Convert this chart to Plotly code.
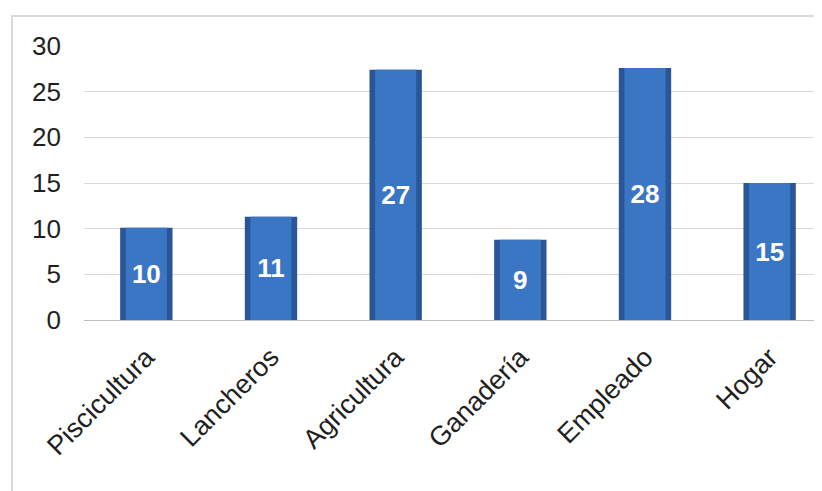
import plotly.graph_objects as go

categories = ["Piscicultura", "Lancheros", "Agricultura", "Ganadería", "Empleado", "Hogar"]
values = [10.1, 11.3, 27.4, 8.8, 27.6, 15.0]
y_ticks = [0, 5, 10, 15, 20, 25, 30]

# page has an 8px body margin; figure coords = page coords - 8
W, H = 814, 483
ml, mt, mb, mr = 76, 38, 171, 0
pw = W - ml - mr
ph = H - mt - mb

def px_to_paper_x(px):
    return (px - ml) / pw

def px_to_paper_y(py):
    return (H - mb - py) / ph

fig = go.Figure()
fig.add_trace(go.Bar(
    x=categories, y=values, width=0.42,
    marker=dict(color="#2a5697", line=dict(width=0)),
    hoverinfo="skip", showlegend=False,
))
fig.add_trace(go.Bar(
    x=categories, y=values, width=0.33,
    marker=dict(color="#3b76c4", line=dict(width=0)),
    texttemplate="<b>%{y:.0f}</b>", textposition="inside",
    insidetextanchor="middle", textangle=0, constraintext="none",
    textfont=dict(family="Liberation Sans, Arial, sans-serif", size=26, color="white"),
    showlegend=False,
))

fig.add_shape(type="rect", xref="paper", yref="paper",
              x0=px_to_paper_x(4), x1=px_to_paper_x(840),
              y0=px_to_paper_y(500), y1=px_to_paper_y(8),
              line=dict(color="#d9d9d9", width=2), fillcolor="rgba(0,0,0,0)", layer="below")

fig.update_layout(
    width=W, height=H,
    margin=dict(l=ml, r=mr, t=mt, b=mb, pad=0),
    barmode="overlay",
    paper_bgcolor="white", plot_bgcolor="white",
    font=dict(family="Liberation Sans, Arial, sans-serif", size=26, color="#1f1f1f"),
    xaxis=dict(range=[-0.5, 5.42], tickangle=-45, showgrid=False, showline=False,
               ticks="", ticklabelstandoff=15, tickfont=dict(size=27)),
    yaxis=dict(range=[0, 30], tickvals=y_ticks, showgrid=True, gridcolor="#d9d9d9",
               gridwidth=1, zeroline=True, zerolinecolor="#bfbfbf", zerolinewidth=1,
               ticks="", ticklabelstandoff=22, tickfont=dict(size=26)),
)

fig.write_html("out.html")
